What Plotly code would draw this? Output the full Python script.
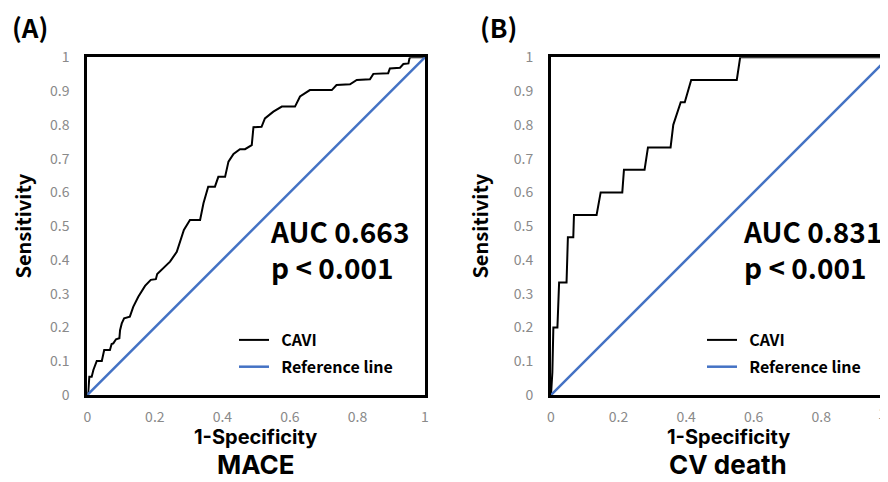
import plotly.graph_objects as go

# ---- data ----
mace_fpr = [0, 0.003, 0.006, 0.013, 0.018, 0.028, 0.043, 0.046, 0.050, 0.067, 0.072, 0.077, 0.085, 0.095,
            0.097, 0.102, 0.109, 0.126, 0.136, 0.151, 0.171, 0.188, 0.203, 0.207, 0.225, 0.245, 0.265, 0.274,
            0.286, 0.304, 0.334, 0.344, 0.358, 0.378, 0.388, 0.408, 0.418, 0.433, 0.452, 0.467, 0.487, 0.492,
            0.516, 0.526, 0.551, 0.576, 0.615, 0.630, 0.645, 0.659, 0.724, 0.738, 0.778, 0.798, 0.837, 0.847,
            0.891, 0.896, 0.926, 0.936, 0.951, 0.954, 0.958, 1.0]
mace_tpr = [0, 0.010, 0.054, 0.054, 0.074, 0.101, 0.101, 0.113, 0.133, 0.133, 0.151, 0.153, 0.165, 0.168,
            0.192, 0.212, 0.227, 0.232, 0.261, 0.291, 0.323, 0.341, 0.343, 0.358, 0.375, 0.395, 0.424, 0.454,
            0.489, 0.518, 0.518, 0.568, 0.617, 0.617, 0.646, 0.646, 0.691, 0.714, 0.728, 0.728, 0.740, 0.793,
            0.794, 0.819, 0.839, 0.854, 0.854, 0.884, 0.893, 0.903, 0.903, 0.918, 0.920, 0.933, 0.935, 0.951,
            0.953, 0.967, 0.969, 0.980, 0.982, 0.997, 1.0, 1.0]

cv_fpr = [0, 0.004, 0.007, 0.019, 0.024, 0.046, 0.050, 0.066, 0.068, 0.135, 0.147, 0.211, 0.216, 0.277,
          0.287, 0.354, 0.362, 0.374, 0.384, 0.396, 0.415, 0.550, 0.560, 1.0]
cv_tpr = [0, 0.067, 0.200, 0.200, 0.333, 0.333, 0.467, 0.467, 0.533, 0.533, 0.600, 0.600, 0.667, 0.667,
          0.733, 0.733, 0.800, 0.835, 0.867, 0.867, 0.933, 0.933, 1.0, 1.0]

ref_x = [0, 1]
ref_y = [0, 1]

x_ticks = [0, 0.2, 0.4, 0.6, 0.8, 1]
x_tick_labels = ["0", "0.2", "0.4", "0.6", "0.8", "1"]
y_ticks = [0, 0.1, 0.2, 0.3, 0.4, 0.5, 0.6, 0.7, 0.8, 0.9, 1]
y_tick_labels = ["0", "0.1", "0.2", "0.3", "0.4", "0.5", "0.6", "0.7", "0.8", "0.9", "1"]

panels = ["(A)", "(B)"]
outcomes = ["MACE", "CV death"]
auc_text = ["AUC 0.663", "AUC 0.831"]
p_text = ["p &lt; 0.001", "p &lt; 0.001"]
x_title = "1-Specificity"
y_title = "Sensitivity"

# The page body has an 8px default margin; size the figure so it fills the 888x482 window.
OFF = 8
W, H = 888 - OFF, 482 - OFF
FONT = "Noto Sans CJK JP, Noto Sans, sans-serif"
FONT_T = "Inter, Noto Sans CJK JP, sans-serif"
BLUE = "#4472C4"
GRAY = "#8a8a8a"


def px(x):
    return (x - OFF) / W


def py(y):
    return 1 - (y - OFF) / H


fig = go.Figure()

fig.add_trace(go.Scatter(x=mace_fpr, y=mace_tpr, mode="lines", name="\u00a0\u00a0<b>CAVI</b>",
                         line=dict(color="black", width=2), xaxis="x", yaxis="y",
                         legend="legend", legendgroup="a1"))
fig.add_trace(go.Scatter(x=ref_x, y=ref_y, mode="lines", name="\u00a0\u00a0<b>Reference line</b>",
                         line=dict(color=BLUE, width=2.5), xaxis="x", yaxis="y",
                         legend="legend", legendgroup="a2"))
fig.add_trace(go.Scatter(x=cv_fpr, y=cv_tpr, mode="lines", name="\u00a0\u00a0<b>CAVI</b>",
                         line=dict(color="black", width=2), xaxis="x2", yaxis="y2",
                         legend="legend2", legendgroup="b1"))
fig.add_trace(go.Scatter(x=ref_x, y=ref_y, mode="lines", name="\u00a0\u00a0<b>Reference line</b>",
                         line=dict(color=BLUE, width=2.5), xaxis="x2", yaxis="y2",
                         legend="legend2", legendgroup="b2"))

ydom = [py(395), py(57.3)]
axA = [px(87.3), px(425)]
axB = [px(551), 1.0]


def xaxis(domain, anchor, rng):
    return dict(domain=domain, anchor=anchor, range=rng, tickvals=x_ticks, ticktext=x_tick_labels,
                showgrid=False, zeroline=False, showline=True, mirror=True, linecolor="black",
                linewidth=3, ticks="", ticklabelstandoff=7, automargin=False,
                tickfont=dict(family=FONT, size=14, color=GRAY))


def yaxis(anchor):
    return dict(domain=ydom, anchor=anchor, range=[0, 1], tickvals=y_ticks, ticktext=y_tick_labels,
                showgrid=False, zeroline=False, showline=True, mirror=True, linecolor="black",
                linewidth=3, ticks="", ticklabelstandoff=12, automargin=False,
                tickfont=dict(family=FONT, size=14, color=GRAY),
                title=dict(text="<b>" + y_title + "</b>", standoff=20,
                           font=dict(family=FONT, size=20, color="black")))


legend_common = dict(xanchor="left", yanchor="top", bgcolor="rgba(0,0,0,0)",
                     font=dict(family=FONT, size=16, color="black"), tracegroupgap=3)

fig.update_layout(
    width=W, height=H,
    margin=dict(l=0, r=0, t=0, b=0),
    paper_bgcolor="white", plot_bgcolor="white",
    font=dict(family=FONT, color="black"),
    xaxis=xaxis(axA, "y", [0, 1]),
    yaxis=yaxis("x"),
    xaxis2=xaxis(axB, "y2", [0, 337 / 337.8]),
    yaxis2=yaxis("x2"),
    legend=dict(x=px(234), y=py(323), **legend_common),
    legend2=dict(x=px(702), y=py(323), **legend_common),
)

annotations = []
for i, (lx, tx, cx) in enumerate([(10, 268, 256), (478, 741, 728)]):
    annotations.append(dict(text="<b>" + panels[i] + "</b>", x=px(lx), y=py(27), xref="paper", yref="paper",
                            xanchor="left", yanchor="middle", showarrow=False,
                            font=dict(family=FONT, size=26, color="black")))
    annotations.append(dict(text="<b>" + x_title + "</b>", x=px(cx), y=py(437), xref="paper",
                            yref="paper", xanchor="center", yanchor="middle", showarrow=False,
                            font=dict(family=FONT_T, size=20, color="black")))
    annotations.append(dict(text="<b>" + outcomes[i] + "</b>", x=px(cx), y=0, xref="paper",
                            yref="paper", xanchor="center", yanchor="bottom", showarrow=False,
                            font=dict(family=FONT_T, size=26, color="black")))
    annotations.append(dict(text="<b>" + auc_text[i] + "<br>" + p_text[i] + "</b>", x=px(tx), y=py(249),
                            xref="paper", yref="paper", xanchor="left", yanchor="middle", align="left",
                            showarrow=False, font=dict(family=FONT, size=28, color="black")))
# "1" tick label at the right edge of panel B (edge of the picture)
annotations.append(dict(text="1", x=1.0, y=py(413), xref="paper", yref="paper", xanchor="right",
                        yanchor="middle", showarrow=False, font=dict(family=FONT, size=14, color=GRAY)))
fig.update_layout(annotations=annotations)

fig.write_html("out.html")
